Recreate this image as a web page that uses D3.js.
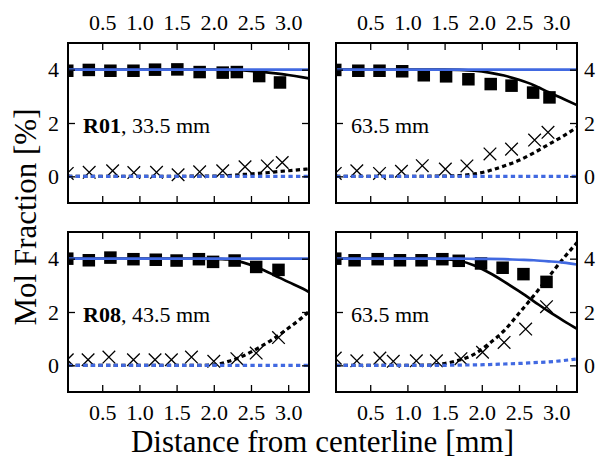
<!DOCTYPE html>
<html>
<head>
<meta charset="utf-8">
<script src="https://cdn.jsdelivr.net/npm/d3@7"></script>
<style>
  html, body { margin: 0; padding: 0; background: #fff; }
  svg { display: block; }
  text { font-family: "Liberation Serif", "Times New Roman", serif; fill: #000; }
</style>
</head>
<body>
<svg id="chart" width="600" height="466"></svg>
<script>
// ---------------- data ----------------
const xTicks = [0.5, 1.0, 1.5, 2.0, 2.5, 3.0];
const yTicks = [0, 2, 4];
const xLabel = "Distance from centerline [mm]";
const yLabel = "Mol Fraction [%]";

const panelBold = ["R01", "", "R08", ""];
const panelText = [", 33.5 mm", "63.5 mm", ", 43.5 mm", "63.5 mm"];

// Panel 1 (R01, 33.5 mm)
const p1SquareX = [0.03, 0.32, 0.61, 0.92, 1.21, 1.51, 1.81, 2.12, 2.31, 2.61, 2.89];
const p1SquareY = [3.96, 3.99, 3.96, 3.96, 4.00, 4.01, 3.91, 3.89, 3.91, 3.76, 3.52];
const p1CrossX = [0.03, 0.325, 0.64, 0.925, 1.23, 1.52, 1.81, 2.12, 2.42, 2.72, 2.92];
const p1CrossY = [0.11, 0.15, 0.21, 0.14, 0.15, 0.06, 0.17, 0.21, 0.36, 0.39, 0.52];
const p1LineX = [0.04, 1.0, 2.0, 2.2, 2.4, 2.6, 2.8, 3.0, 3.2, 3.28];
const p1BlackSolid = [4.0, 4.0, 4.0, 3.99, 3.97, 3.93, 3.87, 3.80, 3.71, 3.67];
const p1BlackDotted = [0, 0, 0.01, 0.03, 0.07, 0.11, 0.16, 0.21, 0.26, 0.28];
const p1BlueSolid = [4, 4, 4, 4, 4, 4, 4, 4, 4, 4];
const p1BlueDotted = [0, 0, 0, 0, 0, 0, 0, 0, 0, 0];

// Panel 2 (63.5 mm, top)
const p2SquareX = [0.03, 0.34, 0.625, 0.93, 1.22, 1.52, 1.82, 2.12, 2.40, 2.69, 2.91];
const p2SquareY = [3.99, 3.96, 3.96, 3.94, 3.79, 3.75, 3.64, 3.46, 3.40, 3.14, 2.96];
const p2CrossX = [0.03, 0.32, 0.625, 0.92, 1.20, 1.51, 1.80, 2.11, 2.40, 2.71, 2.89];
const p2CrossY = [0.11, 0.21, 0.11, 0.19, 0.40, 0.27, 0.39, 0.84, 1.02, 1.36, 1.65];
const p2LineX = [0.04, 1.0, 1.5, 1.7, 1.9, 2.1, 2.3, 2.5, 2.7, 2.9, 3.1, 3.28];
const p2BlackSolid = [4, 4, 4, 3.99, 3.96, 3.89, 3.78, 3.62, 3.42, 3.15, 2.90, 2.67];
const p2BlackDotted = [0, 0, 0.01, 0.03, 0.09, 0.21, 0.39, 0.60, 0.88, 1.20, 1.52, 1.84];
const p2BlueSolid = [4, 4, 4, 4, 4, 4, 4, 4, 4, 4, 4, 4];
const p2BlueDotted = [0, 0, 0, 0, 0, 0, 0, 0, 0, 0, 0, 0];

// Panel 3 (R08, 43.5 mm)
const p3SquareX = [0.03, 0.32, 0.61, 0.92, 1.22, 1.50, 1.80, 1.99, 2.28, 2.57, 2.87];
const p3SquareY = [4.00, 3.94, 4.04, 3.98, 3.96, 3.93, 3.98, 3.88, 3.93, 3.69, 3.58];
const p3CrossX = [0.03, 0.31, 0.59, 0.92, 1.21, 1.43, 1.70, 2.00, 2.31, 2.57, 2.87];
const p3CrossY = [0.21, 0.21, 0.31, 0.21, 0.21, 0.21, 0.31, 0.15, 0.25, 0.46, 1.04];
const p3LineX = [0.04, 1.0, 1.8, 2.0, 2.2, 2.4, 2.6, 2.8, 3.0, 3.2, 3.28];
const p3BlackSolid = [4, 4, 4, 3.995, 3.97, 3.85, 3.65, 3.40, 3.13, 2.87, 2.75];
const p3BlackDotted = [0, 0, 0, 0.02, 0.15, 0.36, 0.65, 0.99, 1.39, 1.82, 2.02];
const p3BlueSolid = [4, 4, 4, 4, 4, 4, 4, 4, 4, 4, 4];
const p3BlueDotted = [0, 0, 0, 0, 0, 0, 0, 0, 0, 0, 0];

// Panel 4 (63.5 mm, bottom)
const p4SquareX = [0.03, 0.29, 0.60, 0.90, 1.19, 1.47, 1.69, 1.99, 2.28, 2.56, 2.87];
const p4SquareY = [4.00, 3.94, 3.98, 3.94, 3.94, 3.98, 3.92, 3.82, 3.66, 3.42, 3.13];
const p4CrossX = [0.03, 0.32, 0.63, 0.81, 1.12, 1.39, 1.72, 2.01, 2.30, 2.59, 2.87];
const p4CrossY = [0.27, 0.17, 0.27, 0.15, 0.17, 0.17, 0.25, 0.49, 0.86, 1.36, 2.20];
const p4LineX = [0.04, 1.0, 1.3, 1.5, 1.7, 1.9, 2.1, 2.3, 2.5, 2.7, 2.9, 3.1, 3.28];
const p4BlackSolid = [4, 4, 4, 3.98, 3.92, 3.74, 3.47, 3.14, 2.78, 2.40, 2.02, 1.67, 1.37];
const p4BlackDotted = [0, 0, 0.01, 0.07, 0.20, 0.42, 0.82, 1.30, 1.95, 2.62, 3.32, 4.02, 4.60];
const p4BlueSolid = [4, 4, 4, 4, 4, 3.995, 3.99, 3.98, 3.96, 3.94, 3.90, 3.85, 3.78];
const p4BlueDotted = [0, 0, 0, 0, 0.01, 0.015, 0.03, 0.05, 0.07, 0.10, 0.13, 0.18, 0.24];

// ---------------- layout ----------------
const svg = d3.select("#chart");
svg.append("rect").attr("width", 600).attr("height", 466).attr("fill", "#fff");

const xDomain = [0.04, 3.28];
const yDomain = [-1, 5];
const BLUE = "#4169e1";
const tickFont = 22;

const panels = [
  {x0: 68, x1: 309, y0: 43, y1: 203, sqX: p1SquareX, sqY: p1SquareY, crX: p1CrossX, crY: p1CrossY,
   lx: p1LineX, bs: p1BlackSolid, bd: p1BlackDotted, us: p1BlueSolid, ud: p1BlueDotted,
   top: true, left: true, bold: panelBold[0], txt: panelText[0]},
  {x0: 336, x1: 577, y0: 43, y1: 203, sqX: p2SquareX, sqY: p2SquareY, crX: p2CrossX, crY: p2CrossY,
   lx: p2LineX, bs: p2BlackSolid, bd: p2BlackDotted, us: p2BlueSolid, ud: p2BlueDotted,
   top: true, left: false, bold: panelBold[1], txt: panelText[1]},
  {x0: 68, x1: 309, y0: 232, y1: 392, sqX: p3SquareX, sqY: p3SquareY, crX: p3CrossX, crY: p3CrossY,
   lx: p3LineX, bs: p3BlackSolid, bd: p3BlackDotted, us: p3BlueSolid, ud: p3BlueDotted,
   top: false, left: true, bold: panelBold[2], txt: panelText[2]},
  {x0: 336, x1: 577, y0: 232, y1: 392, sqX: p4SquareX, sqY: p4SquareY, crX: p4CrossX, crY: p4CrossY,
   lx: p4LineX, bs: p4BlackSolid, bd: p4BlackDotted, us: p4BlueSolid, ud: p4BlueDotted,
   top: false, left: false, bold: panelBold[3], txt: panelText[3]}
];

const fmtX = d3.format(".1f");
const fmtY = d3.format("d");

panels.forEach((p, i) => {
  const w = p.x1 - p.x0, h = p.y1 - p.y0;
  const x = d3.scaleLinear().domain(xDomain).range([0, w]);
  const y = d3.scaleLinear().domain(yDomain).range([h, 0]);
  const g = svg.append("g").attr("transform", `translate(${p.x0},${p.y0})`);

  const clipId = "clip" + i;
  g.append("clipPath").attr("id", clipId).append("rect").attr("width", w).attr("height", h);
  const plot = g.append("g").attr("clip-path", `url(#${clipId})`);

  // squares
  const sq = 12.5;
  plot.selectAll("rect.sq").data(d3.zip(p.sqX, p.sqY)).join("rect")
    .attr("class", "sq")
    .attr("x", d => x(d[0]) - sq / 2).attr("y", d => y(d[1]) - sq / 2)
    .attr("width", sq).attr("height", sq).attr("fill", "#000");

  // crosses
  const cr = 6.3;
  plot.selectAll("path.cr").data(d3.zip(p.crX, p.crY)).join("path")
    .attr("class", "cr")
    .attr("d", d => {
      const cx = x(d[0]), cy = y(d[1]);
      return `M${cx - cr},${cy - cr}L${cx + cr},${cy + cr}M${cx - cr},${cy + cr}L${cx + cr},${cy - cr}`;
    })
    .attr("stroke", "#000").attr("stroke-width", 1.3).attr("fill", "none");

  const line = d3.line().x(d => x(d[0])).y(d => y(d[1])).curve(d3.curveMonotoneX);
  const series = [
    {vals: p.bs, color: "#000", dash: null, sw: 2.7},
    {vals: p.bd, color: "#000", dash: "4.3,3.3", sw: 3.2},
    {vals: p.us, color: BLUE, dash: null, sw: 2.7},
    {vals: p.ud, color: BLUE, dash: "4.3,3.3", sw: 3.2}
  ];
  series.forEach(s => {
    plot.append("path")
      .attr("d", line(d3.zip(p.lx, s.vals)))
      .attr("fill", "none")
      .attr("stroke", s.color)
      .attr("stroke-width", s.sw)
      .attr("stroke-dasharray", s.dash);
  });

  // axes (inward ticks on all sides)
  const mk = (axis, show, fmt) => axis.tickSizeInner(-7).tickSizeOuter(0).tickPadding(0)
    .tickFormat(show ? fmt : () => "");
  const styleAxis = (sel) => {
    sel.select(".domain").remove();
    sel.selectAll(".tick line").attr("stroke", "#000").attr("stroke-width", 1.3);
    sel.selectAll(".tick text").attr("font-size", tickFont).attr("font-family", null).attr("fill", "#000");
  };

  const axTop = g.append("g").call(mk(d3.axisTop(x).tickValues(xTicks), p.top, fmtX));
  styleAxis(axTop);
  axTop.selectAll(".tick text").attr("y", -13).attr("dy", 0);

  const axBot = g.append("g").attr("transform", `translate(0,${h})`)
    .call(mk(d3.axisBottom(x).tickValues(xTicks), !p.top, fmtX));
  styleAxis(axBot);
  axBot.selectAll(".tick text").attr("y", 28).attr("dy", 0);

  const axL = g.append("g").call(mk(d3.axisLeft(y).tickValues(yTicks), p.left, fmtY));
  styleAxis(axL);
  axL.selectAll(".tick text").attr("x", -9).attr("dy", "0.33em");

  const axR = g.append("g").attr("transform", `translate(${w},0)`)
    .call(mk(d3.axisRight(y).tickValues(yTicks), !p.left, fmtY));
  styleAxis(axR);
  axR.selectAll(".tick text").attr("x", 7).attr("dy", "0.33em");

  // border
  g.append("rect").attr("width", w).attr("height", h)
    .attr("fill", "none").attr("stroke", "#000").attr("stroke-width", 2);

  // annotation
  const t = g.append("text").attr("x", 15).attr("y", y(2) + 10).attr("font-size", 22);
  if (p.bold) t.append("tspan").attr("font-weight", "bold").text(p.bold);
  t.append("tspan").text(p.txt);
});

// axis labels
svg.append("text")
  .attr("transform", "translate(36,217) rotate(-90)")
  .attr("text-anchor", "middle").attr("font-size", 31).text(yLabel);
svg.append("text")
  .attr("x", 322.5).attr("y", 452)
  .attr("text-anchor", "middle").attr("font-size", 31).text(xLabel);
</script>
</body>
</html>
